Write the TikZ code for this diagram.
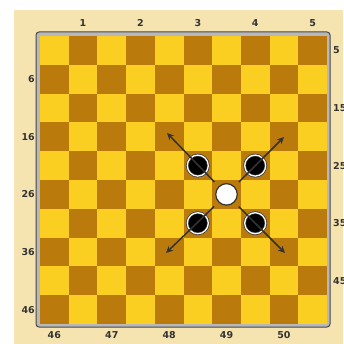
\documentclass[tikz,border=0pt]{standalone}
\usepackage{fontspec}
\setmainfont{DejaVu Sans}
\usetikzlibrary{arrows.meta}
\definecolor{paper}{HTML}{F5E3B0}
\definecolor{sqlight}{HTML}{FBCF22}
\definecolor{sqdark}{HTML}{BA7A0C}
\definecolor{rimgray}{HTML}{B8B8B8}
\definecolor{ink}{HTML}{333333}
\begin{document}
\begin{tikzpicture}[x=1pt,y=-1pt]
    % Styles for board, men and move arrows
    \tikzset{
        lightsq/.style={fill=sqlight},
        darksq/.style={fill=sqdark},
        rim/.style={fill=rimgray, draw=ink!90, line width=1pt, rounded corners=3pt},
        lbl/.style={font=\fontsize{9.5}{9.5}\selectfont\bfseries, text=ink, inner sep=0pt},
        blackman/.style={circle, fill=black, draw=ink, double=white, double distance=1.3pt, line width=0.7pt, inner sep=0pt, minimum size=21pt},
        whiteman/.style={circle, fill=white, draw=ink, line width=1.2pt, inner sep=0pt, minimum size=21.5pt},
        jump/.style={ink, line width=1.5pt, shorten <=6pt, -{Stealth[length=7pt,width=6.5pt]}}
    }

    % Page and backdrop
    \clip (0,0) rectangle (343,344);
    \fill[white] (0,0) rectangle (343,344);
    \fill[paper] (14,10) rectangle (343,344);

    % Frame round the board
    \draw[rim] (36,32) rectangle (330,327);

    % 10x10 squares, light in the top left corner
    \foreach \r in {0,...,9} {
        \foreach \c in {0,...,9} {
            \pgfmathtruncatemacro{\odd}{mod(\r+\c,2)}
            \ifnum\odd=1
                \fill[darksq] ({40+28.7*\c},{36+28.8*\r}) rectangle ++(28.7,28.8);
            \else
                \fill[lightsq] ({40+28.7*\c},{36+28.8*\r}) rectangle ++(28.7,28.8);
            \fi
        }
    }

    % Square numbers round the edge
    \foreach \n [count=\i from 0] in {1,2,3,4,5} {
        \node[lbl] (top\n) at ({40+28.7*(2*\i+1.5)},23) {\n};
    }
    \foreach \n [count=\i from 0] in {46,47,48,49,50} {
        \node[lbl] (bot\n) at ({40+28.7*(2*\i+0.5)},335) {\n};
    }
    \foreach \n [count=\i from 0] in {6,16,26,36,46} {
        \node[lbl, anchor=east] (left\n) at (35,{36+28.8*(2*\i+1.5)}) {\n};
    }
    \foreach \n [count=\i from 0] in {5,15,25,35,45} {
        \node[lbl, anchor=west] (right\n) at (333,{36+28.8*(2*\i+0.5)}) {\n};
    }

    % Men: white in the middle, four black on the diagonals
    \node[whiteman] (W) at (226.5,194.4) {};
    \node[blackman] (B1) at (197.8,165.6) {};
    \node[blackman] (B2) at (255.2,165.6) {};
    \node[blackman] (B3) at (197.8,223.2) {};
    \node[blackman] (B4) at (255.2,223.2) {};

    % Arrow ends, two squares out along each diagonal
    \coordinate (T1) at (167,133);
    \coordinate (T2) at (284,137);
    \coordinate (T3) at (166,253);
    \coordinate (T4) at (285,253);

    % Capture directions
    \foreach \t in {1,2,3,4} {
        \draw[jump] (W) -- (T\t);
    }
\end{tikzpicture}
\end{document}
